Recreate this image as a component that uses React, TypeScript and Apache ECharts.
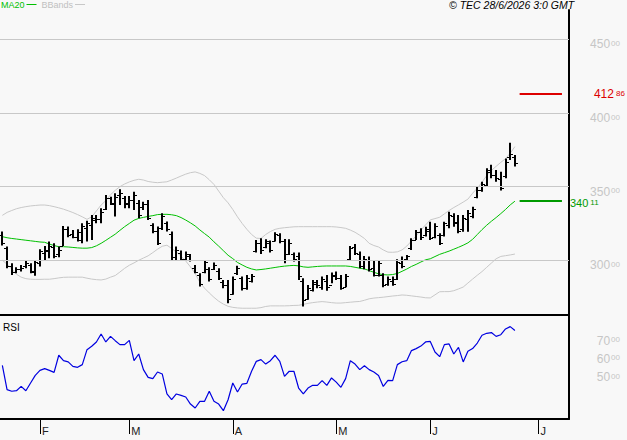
import React, { useEffect, useRef } from "react";
import * as echarts from "echarts";

// ---- calendar (categories) ----
const FIRST_DAY = "2026-01-21";
const LAST_BAR_DAY = "2026-06-26";
const HOLIDAYS = ["2026-02-16", "2026-05-25", "2026-06-19"];
const FUTURE_DAYS = 11;
const MONTH_LETTERS = ["J", "F", "M", "A", "M", "J", "J", "A", "S", "O", "N", "D"];

// ---- price bars ----
const opens = [
  317, 308, 296, 292, 294, 296, 297, 292, 298, 305,
  306, 309, 304, 310, 321, 318, 316, 314, 322, 324,
  327, 328, 335, 342, 338, 344, 342, 339, 341, 339,
  336, 338, 324, 320, 322, 325, 318, 302, 305, 301,
  303, 295, 290, 292, 294, 294, 293, 285, 283, 277,
  291, 288, 281, 286, 306, 312, 309, 312, 313, 317,
  313, 304, 304, 303, 286, 274, 280, 284, 282, 286,
  283, 289, 288, 282, 301, 309, 304, 296, 300, 295,
  290, 290, 284, 286, 287, 298, 301, 308, 314, 319,
  317, 320, 316, 317, 317, 324, 330, 326, 321, 328,
  330, 343, 348, 351, 361, 358, 355, 357, 370, 370,
];
const highs = [
  319.5, 309.3, 298.0, 295.2, 296.8, 299.8, 298.0, 300.2, 307.5, 309.7,
  312.7, 311.5, 309.3, 323.3, 322.9, 320.6, 321.1, 325.1, 326.9, 330.8,
  330.8, 335.3, 344.4, 343.2, 345.5, 348.2, 343.7, 343.7, 346.6, 341.0,
  339.8, 341.0, 325.1, 322.9, 331.9, 326.3, 319.5, 309.3, 306.6, 305.9,
  304.3, 296.8, 291.2, 300.2, 295.2, 298.4, 294.6, 286.6, 286.6, 288.9,
  296.2, 288.9, 290.0, 290.7, 313.8, 314.9, 314.3, 313.4, 319.0, 318.3,
  314.5, 314.3, 305.2, 305.2, 287.8, 283.2, 286.6, 286.6, 288.9, 290.0,
  291.6, 292.3, 290.0, 290.7, 309.7, 311.1, 305.9, 302.9, 302.5, 300.2,
  300.2, 291.2, 288.9, 288.9, 300.7, 302.5, 303.6, 314.9, 320.6, 321.7,
  322.8, 326.2, 325.1, 318.3, 326.2, 333.0, 331.9, 330.8, 330.8, 334.2,
  336.4, 350.0, 353.4, 362.5, 364.8, 361.3, 360.2, 369.2, 379.9, 371.5,
];
const lows = [
  310.0, 294.6, 290.0, 291.2, 292.3, 294.6, 291.2, 289.4, 295.7, 300.2,
  301.4, 301.4, 302.0, 309.7, 315.6, 314.9, 312.7, 311.5, 312.7, 313.8,
  325.1, 325.1, 334.2, 337.6, 329.7, 337.6, 335.3, 335.3, 334.2, 328.5,
  334.2, 327.4, 318.3, 310.4, 320.6, 319.5, 300.2, 300.2, 299.8, 299.8,
  299.1, 291.2, 282.1, 291.2, 285.5, 293.4, 286.6, 281.0, 270.8, 276.5,
  290.0, 279.4, 279.9, 284.8, 305.2, 304.3, 308.2, 305.2, 312.7, 311.5,
  298.0, 303.6, 299.1, 286.6, 268.5, 273.1, 278.7, 281.0, 279.9, 279.2,
  284.4, 286.6, 279.9, 281.7, 300.2, 303.6, 294.6, 293.9, 292.3, 288.9,
  288.9, 281.7, 282.6, 282.6, 286.6, 294.5, 300.2, 307.0, 313.8, 313.8,
  316.1, 313.8, 314.9, 310.4, 316.1, 321.7, 322.8, 318.3, 319.4, 319.4,
  328.5, 342.1, 346.6, 350.0, 355.7, 353.4, 347.3, 355.7, 368.1, 363.6,
];
const closes = [
  312, 296, 292, 294, 295, 298, 293, 299, 306, 307,
  310, 303, 307, 321, 317, 316, 319, 323, 325, 329,
  328, 333, 342, 339, 343, 346, 338, 341, 344, 331,
  338, 329, 320, 312, 330, 321, 302, 307, 301, 304,
  300, 292, 284, 299, 287, 297, 288, 283, 274, 287,
  295, 281, 288, 289, 312, 307, 313, 307, 318, 313,
  300, 312, 301, 289, 273, 281, 285, 283, 287, 282,
  290, 288, 281, 289, 308, 305, 296, 301, 294, 290,
  298, 283, 287, 284, 299, 296, 303, 314, 319, 316,
  321, 315, 323, 312, 325, 331, 325, 320, 329, 332,
  335, 348, 352, 360, 358, 356, 349, 367, 372, 366,
];

// ---- indicators ----
const ma20 = [
  316.0, 315.3, 314.8, 314.4, 314.0, 313.6, 313.2, 312.8, 312.4, 312.2,
  311.0, 310.0, 309.2, 309.2, 309.0, 308.7, 308.4, 308.2, 308.2, 308.6,
  309.8, 311.5, 313.5, 315.6, 317.7, 320.3, 322.8, 325.0, 327.2, 328.4,
  329.1, 329.8, 330.3, 331.0, 331.2, 331.2, 330.9, 330.3, 329.0, 327.3,
  325.4, 323.3, 320.6, 318.1, 315.7, 312.5, 309.6, 306.5, 303.4, 301.1,
  298.5, 296.8, 295.2, 294.1, 293.4, 293.7, 294.1, 294.6, 295.1, 295.6,
  296.0, 296.3, 296.5, 296.2, 295.5, 295.2, 295.5, 295.8, 296.0, 296.1,
  296.1, 296.1, 296.1, 296.1, 295.8, 295.2, 294.6, 294.1, 293.0, 291.8,
  290.8, 290.2, 290.0, 290.3, 291.0, 292.5, 294.0, 295.8, 297.2, 298.8,
  300.3, 301.0, 302.5, 304.0, 305.1, 306.2, 307.5, 308.8, 310.2, 311.8,
  314.2, 317.5, 320.8, 323.8, 326.5, 329.0, 331.7, 334.5, 337.6, 340.11,
];
const bbUpper = [
  330.5, 332.5, 333.8, 335.0, 335.8, 336.4, 336.9, 337.2, 337.5, 337.5,
  337.1, 336.4, 335.6, 334.7, 333.6, 332.4, 331.0, 329.5, 327.8, 329.5,
  333.5, 337.5, 340.5, 344.5, 347.5, 350.0, 351.8, 353.2, 354.3, 355.0,
  354.5, 353.5, 353.0, 352.7, 353.0, 353.3, 354.5, 355.8, 357.2, 358.5,
  359.5, 360.0, 359.0, 357.5, 354.7, 351.5, 347.0, 342.5, 339.0, 334.5,
  329.5, 325.0, 321.0, 317.5, 315.0, 314.8, 317.5, 319.5, 321.0, 321.7,
  322.1, 322.4, 322.7, 322.8, 322.8, 322.8, 322.8, 322.8, 322.8, 322.8,
  322.8, 322.6, 322.2, 321.7, 320.5, 319.0, 317.0, 314.8, 311.5, 310.0,
  309.0, 307.0, 305.5, 305.4, 305.7, 307.0, 309.6, 313.0, 316.6, 320.5,
  324.0, 327.4, 328.3, 329.2, 331.5, 333.8, 335.8, 337.6, 339.5, 341.5,
  345.5, 349.0, 353.0, 357.5, 361.0, 363.8, 366.5, 369.0, 372.7, 377.2,
];
const bbLower = [
  300.0, 297.3, 294.0, 290.5, 288.5, 287.5, 287.1, 287.0, 287.0, 287.1,
  287.1, 287.5, 288.0, 288.4, 288.5, 288.5, 288.5, 288.5, 287.8, 287.2,
  286.8, 286.6, 287.2, 288.5, 289.6, 292.0, 294.5, 296.6, 298.2, 300.0,
  301.5, 303.0, 305.2, 307.5, 309.5, 310.2, 308.0, 305.6, 302.8, 299.5,
  295.5, 291.0, 285.0, 281.0, 277.8, 274.8, 272.2, 270.2, 268.7, 268.0,
  267.6, 267.4, 267.4, 267.4, 267.4, 267.8, 268.6, 269.0, 269.0, 269.0,
  269.0, 269.1, 269.3, 269.4, 270.0, 270.7, 271.2, 271.6, 271.9, 271.6,
  271.2, 270.9, 270.9, 271.2, 271.5, 271.8, 272.0, 272.8, 273.8, 274.3,
  274.6, 274.9, 275.3, 275.7, 276.0, 276.4, 276.2, 275.8, 275.4, 275.0,
  274.5, 274.4, 276.5, 278.6, 278.7, 278.7, 279.3, 280.5, 281.8, 284.5,
  287.2, 289.8, 292.3, 295.2, 298.1, 301.0, 302.6, 303.1, 303.6, 304.2,
];
const rsi = [
  53.7, 40.2, 39.3, 39.6, 42.0, 39.6, 43.9, 48.1, 50.9, 51.9,
  50.9, 49.8, 59.3, 56.3, 55.6, 53.1, 52.6, 54.1, 62.4, 64.3,
  66.7, 71.1, 66.7, 69.8, 67.4, 65.2, 65.2, 67.6, 56.3, 60.0,
  51.3, 47.0, 46.3, 50.0, 48.9, 37.8, 34.6, 37.8, 37.0, 36.1,
  32.2, 30.0, 33.7, 33.7, 39.3, 33.7, 32.2, 28.5, 34.6, 43.9,
  38.9, 43.3, 43.7, 50.4, 55.9, 56.9, 54.4, 56.3, 59.3, 55.9,
  47.6, 50.4, 50.4, 41.1, 37.8, 41.1, 42.6, 42.6, 45.2, 42.6,
  46.7, 44.4, 41.5, 46.3, 56.3, 54.4, 51.3, 53.5, 51.3, 50.0,
  48.1, 42.0, 45.4, 45.2, 54.1, 55.7, 56.3, 61.9, 63.0, 64.4,
  66.7, 67.0, 61.1, 58.5, 65.2, 65.6, 60.0, 63.7, 55.6, 61.5,
  63.0, 66.1, 70.4, 71.5, 71.9, 69.8, 70.7, 73.9, 75.2, 73.1,
];

// ---- axis ticks and marker levels ----
const priceTicks = [300, 350, 400, 450];
const rsiTicks = [50, 60, 70];
const targetLevel = 412.86;
const maLevel = 340.11;
const markerStart = 110;
const markerEnd = 119;

const FONT = "Liberation Sans, Arial, sans-serif";
const GRAY = "#c6c6c6";

function buildDates(): string[] {
  const out: string[] = [];
  const d = new Date(FIRST_DAY + "T00:00:00Z");
  const end = new Date(LAST_BAR_DAY + "T00:00:00Z");
  while (d <= end) {
    const dow = d.getUTCDay();
    const iso = d.toISOString().slice(0, 10);
    if (dow !== 0 && dow !== 6 && !HOLIDAYS.includes(iso)) out.push(iso);
    d.setUTCDate(d.getUTCDate() + 1);
  }
  for (let i = 0; i < FUTURE_DAYS; i++) {
    out.push(d.toISOString().slice(0, 10));
    d.setUTCDate(d.getUTCDate() + 1);
  }
  return out;
}

function splitNum(v: number) {
  const s = v.toFixed(2);
  const [a, b] = s.split(".");
  return { a, b };
}

export default function App() {
  const ref = useRef<HTMLDivElement>(null);

  useEffect(() => {
    if (!ref.current) return;
    document.body.style.margin = "0";
    document.body.style.background = "#f8f8f8";
    const chart = echarts.init(ref.current, undefined, { renderer: "svg" });

    const dates = buildDates();
    const isMonthStart = (i: number) =>
      i > 0 && dates[i].slice(5, 7) !== dates[i - 1].slice(5, 7);
    const monthLabel = (value: string) =>
      MONTH_LETTERS[parseInt(value.slice(5, 7), 10) - 1];

    const bars = opens.map((o, i) => [i, o, highs[i], lows[i], closes[i]]);

    const yLabelRich = {
      a: { fontSize: 12, lineHeight: 10, color: GRAY, fontFamily: FONT },
      b: { fontSize: 8, lineHeight: 10, color: GRAY, fontFamily: FONT, verticalAlign: "top", padding: [0, 0, 0, 1] },
    };

    const mk = (level: number, color: string, dist: number, size: number, dy: number) => {
      const p = splitNum(level);
      return [
        {
          coord: [markerStart, level],
          lineStyle: { color, width: 2, type: "solid" },
          label: {
            show: true,
            position: "end",
            distance: dist,
            offset: [0, dy],
            formatter: `{a|${p.a}}{b|${p.b}}`,
            rich: {
              a: { fontSize: size, lineHeight: 9, color, fontFamily: FONT },
              b: { fontSize: 8, lineHeight: 9, color, fontFamily: FONT, verticalAlign: "top", padding: [0, 0, 0, 2] },
            },
          },
        },
        { coord: [markerEnd, level] },
      ];
    };

    const option: any = {
      animation: false,
      backgroundColor: "#f8f8f8",
      title: [
        {
          text: "© TEC 28/6/2026 3:0 GMT",
          left: 449,
          top: -1,
          padding: 0,
          textStyle: { fontSize: 10.5, fontStyle: "italic", fontWeight: "normal", color: "#000", fontFamily: FONT },
        },
        {
          text: "RSI",
          left: 3,
          top: 322,
          padding: 0,
          textStyle: { fontSize: 10, fontWeight: "normal", color: "#000", fontFamily: FONT },
        },
      ],
      legend: {
        left: 1,
        top: 0,
        padding: 0,
        align: "right",
        icon: "rect",
        itemWidth: 10,
        itemHeight: 1,
        itemGap: 5,
        selectedMode: false,
        textStyle: { fontSize: 9, fontFamily: FONT, padding: [0, -3, 0, 0] },
        data: [
          { name: "MA20", textStyle: { color: "#00c000" } },
          { name: "BBands", textStyle: { color: "#c0c0c0" } },
        ],
      },
      grid: [
        { left: 0, right: 58, top: 10, height: 305 },
        { left: 0, right: 58, top: 316, height: 103 },
      ],
      xAxis: [
        {
          type: "category",
          gridIndex: 0,
          data: dates,
          boundaryGap: true,
          axisLine: { show: true, lineStyle: { color: "#000", width: 2 } },
          axisTick: { show: false },
          axisLabel: { show: false },
          splitLine: { show: false },
        },
        {
          type: "category",
          gridIndex: 1,
          data: dates,
          boundaryGap: true,
          axisLine: { show: true, lineStyle: { color: "#000", width: 2 } },
          axisTick: {
            show: true,
            alignWithLabel: true,
            interval: (i: number) => isMonthStart(i),
            length: 15,
            lineStyle: { color: "#000", width: 1 },
          },
          axisLabel: {
            show: true,
            interval: (i: number) => isMonthStart(i),
            formatter: (v: string) => monthLabel(v),
            align: "left",
            margin: 6,
            padding: [0, 0, 0, 2],
            fontSize: 11,
            color: "#222",
            fontFamily: FONT,
          },
          splitLine: { show: false },
        },
      ],
      yAxis: [
        {
          type: "value",
          gridIndex: 0,
          position: "right",
          min: 262.8,
          max: 470.0,
          axisLine: { show: true, onZero: false, lineStyle: { color: "#000", width: 2 } },
          axisTick: { show: false },
          splitLine: { show: false },
          axisLabel: {
            customValues: priceTicks,
            align: "right",
            verticalAlign: "top",
            margin: 51,
            formatter: (v: number) => `{a|${Math.round(v)}}{b|00}`,
            rich: yLabelRich,
          },
        },
        {
          type: "value",
          gridIndex: 1,
          position: "right",
          min: 23.89,
          max: 81.11,
          axisLine: { show: true, onZero: false, lineStyle: { color: "#000", width: 2 } },
          axisTick: { show: false },
          splitLine: { show: false },
          axisLabel: {
            customValues: rsiTicks,
            align: "right",
            verticalAlign: "top",
            margin: 51,
            formatter: (v: number) => `{a|${Math.round(v)}}{b|00}`,
            rich: yLabelRich,
          },
        },
      ],
      series: [
        {
          name: "BBands",
          type: "line",
          xAxisIndex: 0,
          yAxisIndex: 0,
          data: bbUpper,
          symbol: "none",
          color: "#c8c8c8",
          lineStyle: { color: "#c8c8c8", width: 1 },
          z: 1,
          silent: true,
          markLine: {
            silent: true,
            symbol: "none",
            label: { show: false },
            lineStyle: { color: "#c8c8c8", width: 1, type: "solid" },
            data: priceTicks.map((v) => ({ yAxis: v })),
          },
        },
        {
          name: "BBands",
          type: "line",
          xAxisIndex: 0,
          yAxisIndex: 0,
          data: bbLower,
          symbol: "none",
          color: "#c8c8c8",
          lineStyle: { color: "#c8c8c8", width: 1 },
          z: 1,
          silent: true,
        },
        {
          name: "MA20",
          type: "line",
          xAxisIndex: 0,
          yAxisIndex: 0,
          data: ma20,
          symbol: "none",
          color: "#00c000",
          lineStyle: { color: "#00c000", width: 1 },
          z: 2,
          silent: true,
          markLine: {
            silent: true,
            symbol: "none",
            data: [mk(targetLevel, "#dd0000", 32, 12, 0), mk(maLevel, "#009a00", 8, 11, 2)],
          },
        },
        {
          name: "Price",
          type: "custom",
          xAxisIndex: 0,
          yAxisIndex: 0,
          data: bars,
          encode: { x: 0, y: [1, 2, 3, 4] },
          z: 3,
          silent: true,
          renderItem: (params: any, api: any) => {
            const i = api.value(0);
            const pH = api.coord([i, api.value(2)]);
            const pL = api.coord([i, api.value(3)]);
            const pO = api.coord([i, api.value(1)]);
            const pC = api.coord([i, api.value(4)]);
            const x = Math.round(pH[0]);
            const yo = Math.round(pO[1]) + 0.5;
            const yc = Math.round(pC[1]) + 0.5;
            return {
              type: "group",
              children: [
                { type: "line", shape: { x1: x, y1: pH[1], x2: x, y2: pL[1] }, style: { stroke: "#000", lineWidth: 2 } },
                { type: "line", shape: { x1: x - 3, y1: yo, x2: x, y2: yo }, style: { stroke: "#000", lineWidth: 1 } },
                { type: "line", shape: { x1: x, y1: yc, x2: x + 3, y2: yc }, style: { stroke: "#000", lineWidth: 1 } },
              ],
            };
          },
        },
        {
          name: "RSI",
          type: "line",
          xAxisIndex: 1,
          yAxisIndex: 1,
          data: rsi,
          symbol: "none",
          color: "#0000e0",
          lineStyle: { color: "#0000e0", width: 1.2 },
          silent: true,
        },
      ],
    };

    chart.setOption(option);
    return () => chart.dispose();
  }, []);

  return (
    <div
      ref={ref}
      style={{ position: "absolute", left: 0, top: 0, width: 627, height: 440, background: "#f8f8f8" }}
    />
  );
}
